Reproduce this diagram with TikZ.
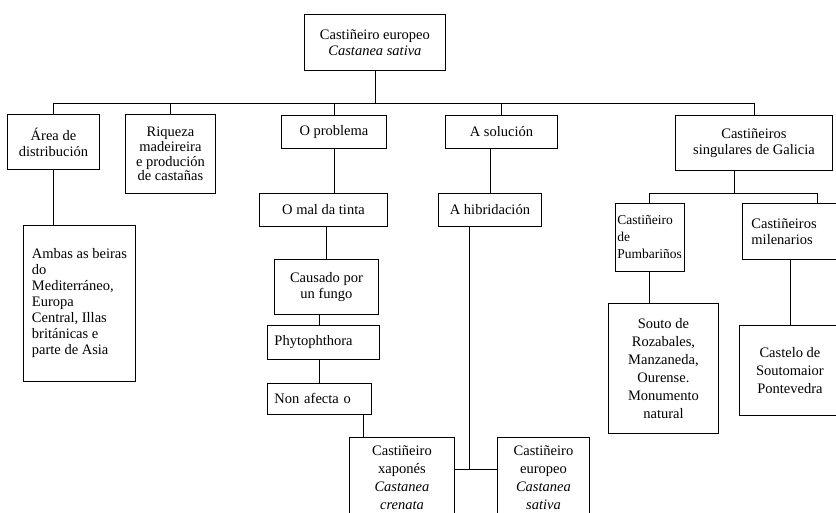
\documentclass[tikz,border=0pt]{standalone}
\usepackage{fontspec}
\setmainfont{Liberation Serif}
\tikzset{
  box/.style={draw, line width=0.9pt, anchor=north west, inner sep=3pt, align=center,
    font=\fontsize{14.5}{16}\selectfont},
  lbox/.style={box, align=left},
  tall/.style={font=\fontsize{14.5}{18}\selectfont},
  link/.style={line width=0.9pt},
}
\begin{document}
\begin{tikzpicture}[x=1pt,y=-1pt]
\useasboundingbox (0,0) rectangle (836,513);
\clip (0,0) rectangle (836,513);
% top
\node[box, minimum width=141pt, minimum height=56pt] (top) at (304,14) {Castiñeiro europeo\\\textit{Castanea sativa}};
% first row
\node[box, minimum width=92pt, minimum height=55pt] (area) at (7,114) {Área de\\distribución};
\node[box, minimum width=90pt, minimum height=79pt, font=\fontsize{14.5}{14.8}\selectfont] (riq) at (125,114) {Riqueza\\madeireira\\e produción\\de castañas};
\node[box, minimum width=105pt, minimum height=33pt] (prob) at (281,115) {O problema};
\node[box, minimum width=112pt, minimum height=33pt] (sol) at (445,115) {A solución};
\node[box, minimum width=157pt, minimum height=55pt] (sing) at (675,115) {Castiñeiros\\singulares de Galicia};
% left branches
\node[lbox, minimum width=112pt, minimum height=156pt] (ambas) at (23,225) {Ambas as beiras\\do\\Mediterráneo,\\Europa\\Central, Illas\\británicas e\\parte de Asia};
\node[box, minimum width=128pt, minimum height=33pt] (mal) at (259,193) {O mal da tinta};
\node[box, minimum width=103pt, minimum height=33pt] (hib) at (438,193) {A hibridación};
\node[box, minimum width=104pt, minimum height=55pt] (caus) at (274,259) {Causado por\\un fungo};
\node[lbox, text width=98pt, inner xsep=7pt, minimum height=34pt] (phy) at (267,325) {Phytophthora};
\node[lbox, text width=90pt, inner xsep=7pt, minimum height=31pt] (non) at (267,383) {Non afecta o};
\node[box, tall, minimum width=105pt, minimum height=80pt] (cren) at (349,437) {Castiñeiro\\xaponés\\\textit{Castanea}\\\textit{crenata}};
\node[box, tall, minimum width=92pt, minimum height=80pt] (sat) at (497,437) {Castiñeiro\\europeo\\\textit{Castanea}\\\textit{sativa}};
% right branches
\node[lbox, minimum width=68pt, minimum height=68pt, inner xsep=2pt, font=\fontsize{13.5}{17}\selectfont] (pumb) at (615,203) {Castiñeiro\\de\\Pumbariños};
\node[lbox, text width=132pt, inner xsep=9pt, minimum height=56pt] (mil) at (742,203) {Castiñeiros\\milenarios};
\node[box, tall, minimum width=110pt, minimum height=130pt] (souto) at (608,303) {Souto de\\Rozabales,\\Manzaneda,\\Ourense.\\Monumento\\natural};
\node[box, tall, minimum width=101pt, minimum height=90pt] (cast) at (739,325) {Castelo de\\Soutomaior\\Pontevedra};
% connectors
\draw[link] (top.south) -- ++(0,33);
\draw[link] (area.north) -- ++(0,-11) -| (sing.north);
\foreach \n in {riq,prob,sol} \draw[link] (\n.north) -- ++(0,-11);
\draw[link] (area.south) -- (area.south |- ambas.north);
\draw[link] (prob.south) -- (prob.south |- mal.north);
\draw[link] (caus.north) -- (caus.north |- mal.south);
\draw[link] (non.north |- phy.north) -- (non.north |- caus.south);
\draw[link] (non.north) -- (non.north |- phy.south);
\draw[link] ([xshift=14pt]cren.north west) -- ++(0,-23);
\draw[link] (hib.north) -- (hib.north |- sol.south);
\draw[link] ([xshift=-21pt]hib.south) |- ([yshift=8pt]sat.west);
\draw[link] ([yshift=8pt]cren.east) -- ([yshift=8pt]sat.west);
\draw[link] ([xshift=-20pt]sing.south) -- ++(0,23);
\draw[link] (pumb.north) -- ++(0,-10) -| (mil.north);
\draw[link] (pumb.south) -- (pumb.south |- souto.north);
\draw[link] (cast.north) -- (cast.north |- mil.south);
\end{tikzpicture}
\end{document}
